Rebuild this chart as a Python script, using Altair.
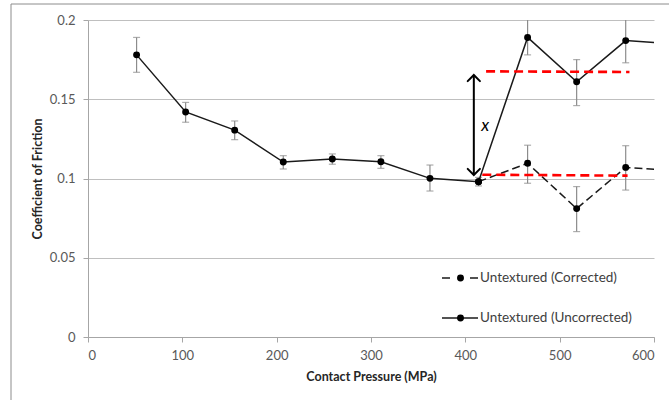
import altair as alt
import pandas as pd

# ---- data ----
pressure_unc = [51.5, 103.5, 155.5, 207, 259, 310.5, 362.5, 414, 466, 518, 570, 622]
cof_unc = [0.178, 0.142, 0.1305, 0.1104, 0.1123, 0.1106, 0.1001, 0.098, 0.189, 0.161, 0.187, 0.1848]
err_lo_unc = [0.167, 0.1355, 0.1245, 0.106, 0.109, 0.1064, 0.0921, 0.0953, 0.178, 0.146, 0.173, None]
err_hi_unc = [0.189, 0.148, 0.1363, 0.1144, 0.1155, 0.1144, 0.1085, 0.1007, 0.2005, 0.175, 0.201, None]

pressure_cor = [414, 466, 518, 570, 622]
cof_cor = [0.098, 0.1096, 0.081, 0.107, 0.1049]
err_lo_cor = [None, 0.097, 0.0665, 0.0927, None]
err_hi_cor = [None, 0.121, 0.0949, 0.1207, None]

mean_x = [422, 574, 418, 572]
mean_y = [0.1676, 0.1672, 0.1024, 0.1018]
mean_grp = ["textured", "textured", "untextured", "untextured"]

arrow_x = [409, 409]
arrow_y = [0.1022, 0.1653]
arrow_dir = [180, 0]

label_x = [421]
label_y = [0.133]
label_txt = ["x"]

legend_labels = ["Untextured (Corrected)", "Untextured (Uncorrected)"]

FONT = "Lato"
W, H = 566, 317

unc = pd.DataFrame({"p": pressure_unc, "c": cof_unc, "lo": err_lo_unc, "hi": err_hi_unc})
cor = pd.DataFrame({"p": pressure_cor, "c": cof_cor, "lo": err_lo_cor, "hi": err_hi_cor})
err = pd.concat([unc, cor]).dropna()
caps = pd.DataFrame({"p": list(err["p"]) * 2, "v": list(err["lo"]) + list(err["hi"])})
means = pd.DataFrame({"p": mean_x, "c": mean_y, "g": mean_grp})
arrow = pd.DataFrame({"p": arrow_x, "c": arrow_y, "a": arrow_dir})
lab = pd.DataFrame({"p": label_x, "c": label_y, "t": label_txt})

xs = alt.Scale(domain=[0, 600], nice=False)
ys = alt.Scale(domain=[0, 0.2], nice=False)
X = alt.X("p:Q", scale=xs, title="Contact Pressure (MPa)",
          axis=alt.Axis(values=[0, 100, 200, 300, 400, 500, 600], grid=False))
Y = alt.Y("c:Q", scale=ys, title="Coefficient of Friction",
          axis=alt.Axis(values=[0, 0.05, 0.1, 0.15, 0.2], format="~g", grid=True))

base_unc = alt.Chart(unc)

border = alt.Chart(pd.DataFrame({"k": [0]})).mark_rect(
    fill=None, stroke="#8c8c8c", strokeWidth=1, clip=False
).encode(x=alt.value(-77), y=alt.value(-16), x2=alt.value(700), y2=alt.value(500))

bars = alt.Chart(err).mark_rule(color="#8c8c8c", strokeWidth=1.2, clip=True).encode(
    x=X, y=alt.Y("lo:Q", scale=ys), y2="hi:Q")
capm = alt.Chart(caps).mark_tick(color="#8c8c8c", orient="horizontal", size=7,
                                  thickness=1.2, clip=True).encode(
    x=alt.X("p:Q", scale=xs), y=alt.Y("v:Q", scale=ys))

line_unc = base_unc.mark_line(color="#1a1a1a", strokeWidth=1.5, clip=True).encode(x=X, y=Y)
line_cor = alt.Chart(cor).mark_line(color="#1a1a1a", strokeWidth=1.5, strokeDash=[8, 4],
                                    clip=True).encode(x=X, y=Y)
mean_lines = alt.Chart(means).mark_line(color="#ff0000", strokeWidth=2.6, strokeDash=[9, 5],
                                        clip=True).encode(x=X, y=Y, detail="g:N")
pts_unc = base_unc.mark_circle(color="#000000", size=48, opacity=1, clip=True).encode(x=X, y=Y)
pts_cor = alt.Chart(cor).mark_circle(color="#000000", size=48, opacity=1, clip=True).encode(x=X, y=Y)

arrow_line = alt.Chart(arrow).mark_line(color="#000000", strokeWidth=2).encode(x=X, y=Y)
arrow_heads = alt.Chart(arrow).mark_point(
    shape="M -1 1 L 0 0 L 1 1", filled=False, color="#000000", strokeWidth=2,
    size=150, opacity=1, strokeCap="round", strokeJoin="miter"
).encode(x=X, y=Y, angle=alt.Angle("a:Q", scale=None))

xlabel = alt.Chart(lab).mark_text(font=FONT, fontSize=17, fontStyle="italic",
                                  color="#000000", align="center", baseline="middle").encode(
    x=X, y=Y, text="t:N")

# legend (drawn inside the plot area, lower right)
leg = alt.Chart(pd.DataFrame({"k": [0]}))
lg_dash = leg.mark_rule(color="#1a1a1a", strokeWidth=1.5, strokeDash=[8, 20]).encode(
    x=alt.value(354), x2=alt.value(390), y=alt.value(258), y2=alt.value(258))
lg_solid = leg.mark_rule(color="#1a1a1a", strokeWidth=1.5).encode(
    x=alt.value(354), x2=alt.value(390), y=alt.value(298), y2=alt.value(298))
lg_pt1 = leg.mark_circle(color="#000000", size=48, opacity=1).encode(
    x=alt.value(372.5), y=alt.value(258))
lg_pt2 = leg.mark_circle(color="#000000", size=48, opacity=1).encode(
    x=alt.value(372.5), y=alt.value(298))
lg_t1 = leg.mark_text(font=FONT, fontSize=13.5, color="#404040", align="left",
                      baseline="middle").encode(
    x=alt.value(392), y=alt.value(258), text=alt.value(legend_labels[0]))
lg_t2 = leg.mark_text(font=FONT, fontSize=13.5, color="#404040", align="left",
                      baseline="middle").encode(
    x=alt.value(392), y=alt.value(298), text=alt.value(legend_labels[1]))

chart = alt.layer(
    border, bars, capm, line_unc, line_cor, mean_lines, pts_unc, pts_cor,
    arrow_line, arrow_heads, xlabel,
    lg_dash, lg_solid, lg_pt1, lg_pt2, lg_t1, lg_t2
).properties(
    width=W, height=H,
    autosize=alt.AutoSizeParams(type="none"),
    padding={"left": 88, "top": 20, "right": 15, "bottom": 63},
    background="#ffffff",
).configure_view(stroke=None).configure_axis(
    labelFont=FONT, titleFont=FONT, labelFontSize=13, labelColor="#595959",
    titleFontSize=12.5, titleFontWeight="bold", titleColor="#262626",
    domainColor="#a6a6a6", tickColor="#a6a6a6", gridColor="#bfbfbf",
    tickSize=5, domainWidth=1, gridWidth=1,
).configure_axisY(labelPadding=8, titlePadding=5).configure_axisX(
    labelPadding=7, titlePadding=8)

chart.save("out.html", embed_options={"renderer": "svg", "actions": False})
